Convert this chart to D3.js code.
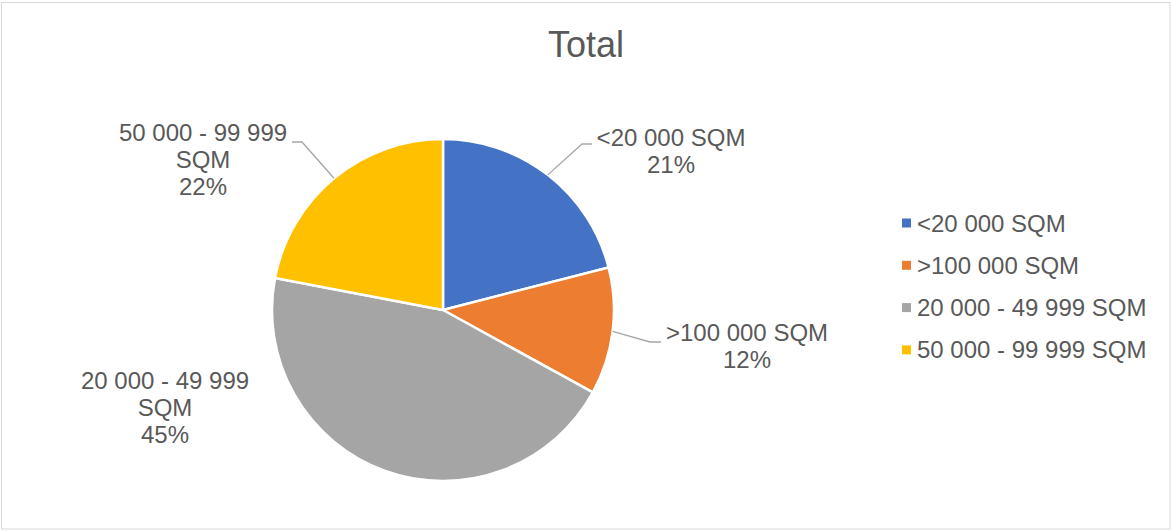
<!DOCTYPE html>
<html>
<head>
<meta charset="utf-8">
<script src="https://cdnjs.cloudflare.com/ajax/libs/d3/7.8.5/d3.min.js"></script>
<style>
  html, body { margin: 0; padding: 0; background: #fff; }
  svg { display: block; }
  svg text { font-family: Arial, "Liberation Sans", Helvetica, sans-serif; }
</style>
</head>
<body>
<script>
'use strict';

// chart data
const categories = ["<20 000 SQM", ">100 000 SQM", "20 000 - 49 999 SQM", "50 000 - 99 999 SQM"];
const shares = [21, 12, 45, 22];
const labelLines = [["<20 000 SQM"], [">100 000 SQM"], ["20 000 - 49 999", "SQM"], ["50 000 - 99 999", "SQM"]];
const sliceColors = ["#4472C4", "#ED7D31", "#A5A5A5", "#FFC000"];
const title = "Total";

// label block centers relative to pie center, and leader elbows (null = no leader)
const labelOffsets = [[228, -159], [304, 36], [-278, 98], [-240, -150]];
const leaderElbows = [[[139, -166], [149, -166]], [[207, 32], [218, 32]], null, [[-141, -168], [-151, -168]]];

(function() {
  const width = 1172, height = 531;
  const cx = 443, cy = 310, r = 171;
  const textColor = "#595959";

  const svg = d3.select("body").append("svg")
    .attr("width", width)
    .attr("height", height);

  // chart border
  svg.append("rect")
    .attr("x", 1.5).attr("y", 2.5)
    .attr("width", width - 3.5).attr("height", height - 4.5)
    .attr("fill", "#fff")
    .attr("stroke", "#d9d9d9");

  svg.append("text")
    .attr("x", 586).attr("y", 57)
    .attr("text-anchor", "middle")
    .attr("fill", textColor)
    .style("font-size", "36px")
    .text(title);

  const data = categories.map((c, i) => ({ name: c, value: shares[i], idx: i }));

  const pie = d3.pie().sort(null).value(d => d.value);
  const arc = d3.arc().innerRadius(0).outerRadius(r);
  const arcs = pie(data);

  const g = svg.append("g").attr("transform", `translate(${cx},${cy})`);

  g.selectAll("path.slice")
    .data(arcs)
    .enter()
    .append("path")
    .attr("class", "slice")
    .attr("d", arc)
    .attr("fill", d => sliceColors[d.data.idx])
    .attr("stroke", "#fff")
    .attr("stroke-width", 2.5)
    .attr("stroke-linejoin", "round");

  // leader lines
  arcs.forEach(d => {
    const elbow = leaderElbows[d.data.idx];
    if (!elbow) return;
    const mid = (d.startAngle + d.endAngle) / 2;
    const p0 = [r * Math.sin(mid), -r * Math.cos(mid)];
    g.append("polyline")
      .attr("points", [p0, elbow[0], elbow[1]].map(p => p.join(",")).join(" "))
      .attr("fill", "none")
      .attr("stroke", "#a6a6a6")
      .attr("stroke-width", 1.3);
  });

  // data labels
  const lineH = 27;
  arcs.forEach(d => {
    const i = d.data.idx;
    const lines = labelLines[i].concat([d.data.value + "%"]);
    const off = labelOffsets[i];
    const t = g.append("text")
      .attr("text-anchor", "middle")
      .attr("fill", textColor)
      .style("font-size", "24px");
    const y0 = off[1] - (lines.length - 1) * lineH / 2 + 8;
    lines.forEach((ln, k) => {
      t.append("tspan")
        .attr("x", off[0])
        .attr("y", y0 + k * lineH)
        .text(ln);
    });
  });

  // legend
  const legend = svg.append("g").attr("transform", "translate(902,223)");
  const rowH = 42.3;
  categories.forEach((c, i) => {
    const row = legend.append("g").attr("transform", `translate(0,${i * rowH})`);
    row.append("rect")
      .attr("x", 0).attr("y", -4.5)
      .attr("width", 9).attr("height", 9)
      .attr("fill", sliceColors[i]);
    row.append("text")
      .attr("x", 15).attr("y", 8.5)
      .attr("fill", textColor)
      .style("font-size", "24px")
      .text(c);
  });
})();
</script>
</body>
</html>
